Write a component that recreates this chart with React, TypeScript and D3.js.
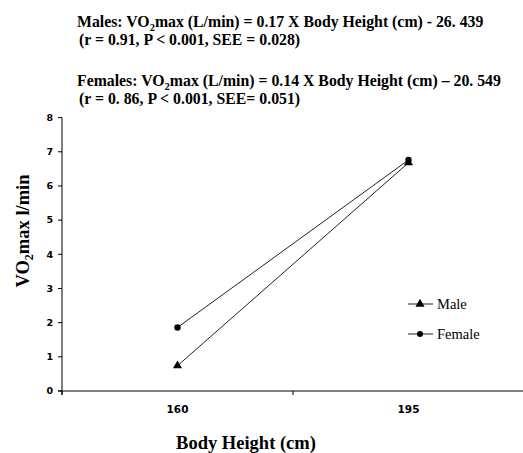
import React from "react";
import * as d3 from "d3";

const categories = ["160", "195"];
const maleValues = [0.74, 6.68];
const femaleValues = [1.86, 6.76];
const yTicks = [0, 1, 2, 3, 4, 5, 6, 7, 8];

const W = 523;
const H = 453;

export default function App() {
  const x = d3.scaleBand<string>().domain(categories).range([62, 524]).padding(0);
  const y = d3.scaleLinear().domain([0, 8]).range([391, 117.6]);
  const cx = (c: string) => (x(c) as number) + x.bandwidth() / 2;
  const line = d3
    .line<number>()
    .x((_, i) => cx(categories[i]))
    .y((d) => y(d));
  const tri = d3.symbol().type(d3.symbolTriangle).size(36)();
  const bandEdges = [62, ...categories.map((c) => (x(c) as number) + x.bandwidth())];

  const titleStyle: React.CSSProperties = {
    fontFamily: "'Liberation Serif', 'Times New Roman', serif",
    fontWeight: "bold",
    fontSize: 15.8,
  };
  const tickFont = "'DejaVu Sans', Verdana, sans-serif";

  return (
    <svg width={W} height={H} style={{ position: "absolute", left: 0, top: 0 }}>
      <rect width={W} height={H} fill="#fff" />
      <g style={titleStyle} fill="#000">
        <text x={77} y={27}>
          Males: VO<tspan fontSize={10.5} dy={3.5}>2</tspan>
          <tspan dy={-3.5}>max (L/min) = 0.17 X Body Height (cm) - 26. 439</tspan>
        </text>
        <text x={79} y={45}>(r = 0.91, P &lt; 0.001, SEE = 0.028)</text>
        <text x={77} y={86}>
          Females: VO<tspan fontSize={10.5} dy={3.5}>2</tspan>
          <tspan dy={-3.5}>max (L/min) = 0.14 X Body Height (cm) – 20. 549</tspan>
        </text>
        <text x={79} y={104}>(r = 0. 86, P &lt; 0.001, SEE= 0.051)</text>
      </g>

      {/* axes */}
      <line x1={62} x2={62} y1={y(8)} y2={395} stroke="#000" strokeWidth={1} />
      <line x1={58} x2={524} y1={y(0)} y2={y(0)} stroke="#000" strokeWidth={1} />
      {yTicks.map((t) => (
        <g key={t}>
          <line x1={58} x2={62} y1={y(t)} y2={y(t)} stroke="#000" />
          <text
            x={53}
            y={y(t)}
            dy="0.35em"
            textAnchor="end"
            fontFamily={tickFont}
            fontWeight="bold"
            fontSize={9.5}
          >
            {t}
          </text>
        </g>
      ))}
      {bandEdges.map((e, i) => (
        <line key={i} x1={e} x2={e} y1={y(0)} y2={395} stroke="#000" />
      ))}
      {categories.map((c) => (
        <text
          key={c}
          x={cx(c)}
          y={413}
          textAnchor="middle"
          fontFamily={tickFont}
          fontWeight="bold"
          fontSize={10.5}
        >
          {c}
        </text>
      ))}

      {/* axis titles */}
      <text
        transform={`translate(29,${231}) rotate(-90)`}
        textAnchor="middle"
        fontFamily="'Liberation Serif', 'Times New Roman', serif"
        fontWeight="bold"
        fontSize={18.5}
      >
        VO<tspan fontSize={12} dy={4}>2</tspan>
        <tspan dy={-4}>max l/min</tspan>
      </text>
      <text
        x={246}
        y={449}
        textAnchor="middle"
        fontFamily="'Liberation Serif', 'Times New Roman', serif"
        fontWeight="bold"
        fontSize={18.5}
      >
        Body Height (cm)
      </text>

      {/* series */}
      <path d={line(maleValues) || ""} fill="none" stroke="#222" strokeWidth={1} />
      <path d={line(femaleValues) || ""} fill="none" stroke="#222" strokeWidth={1} />
      {maleValues.map((v, i) => (
        <path key={"m" + i} d={tri || ""} transform={`translate(${cx(categories[i])},${y(v)})`} fill="#000" />
      ))}
      {femaleValues.map((v, i) => (
        <circle key={"f" + i} cx={cx(categories[i])} cy={y(v)} r={3.2} fill="#000" />
      ))}

      {/* legend */}
      <g fontFamily="'Liberation Serif', 'Times New Roman', serif" fontSize={14.5}>
        <line x1={408} x2={433} y1={304} y2={304} stroke="#222" />
        <path d={tri || ""} transform="translate(420,304)" fill="#000" />
        <text x={437} y={304} dy="0.33em">Male</text>
        <line x1={408} x2={433} y1={334} y2={334} stroke="#444" strokeWidth={1.2} />
        <circle cx={420} cy={334} r={3} fill="#000" />
        <text x={437} y={334} dy="0.33em">Female</text>
      </g>
    </svg>
  );
}
